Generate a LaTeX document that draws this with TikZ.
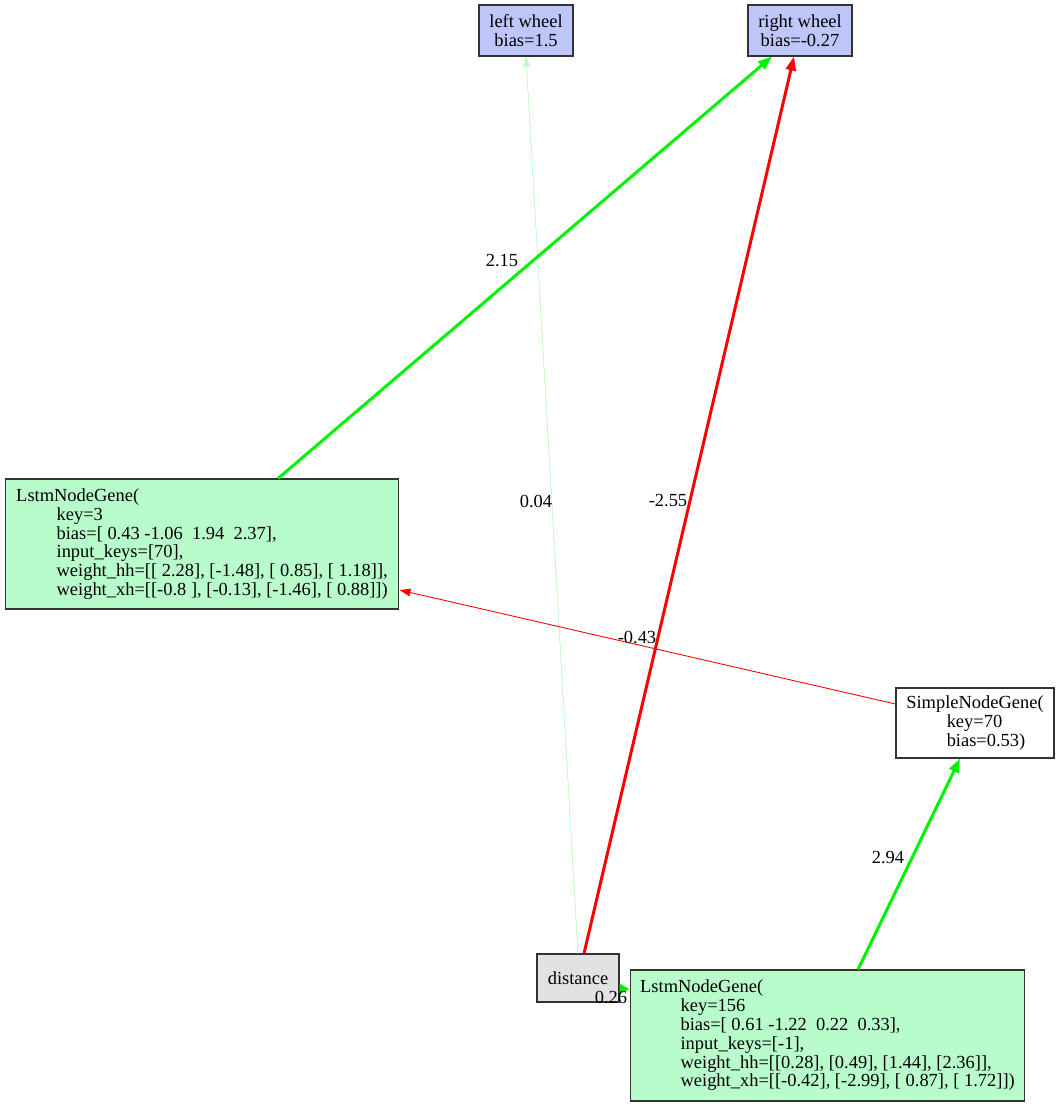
\documentclass[tikz,border=0pt]{standalone}
\usepackage{fontspec}
\setmainfont{Liberation Serif}
\usepackage{tikz}
\usetikzlibrary{arrows.meta,calc}

\definecolor{wheelblue}{RGB}{190,198,250}
\definecolor{genegreen}{RGB}{185,252,204}
\definecolor{inputgray}{RGB}{226,226,226}
\definecolor{wgreen}{RGB}{0,242,0}
\definecolor{wred}{RGB}{255,0,0}

\newcommand{\tabin}{\hspace*{23pt}}

\tikzset{
	genebox/.style={draw=black!80, line width=0.6pt, inner sep=0pt, align=left,
		font=\fontsize{10.5}{10.7}\selectfont},
	wheelbox/.style={genebox, align=center, fill=wheelblue},
	lstmbox/.style={genebox, fill=genegreen},
	wlabel/.style={inner sep=0pt, font=\fontsize{10.5}{10.7}\selectfont},
	bigpos/.style={draw=wgreen, line width=1.7pt, -{Triangle[length=0.28cm, width=0.2cm]}},
	bigneg/.style={draw=wred, line width=1.7pt, -{Triangle[length=0.28cm, width=0.2cm]}},
	smallneg/.style={draw=wred, line width=0.5pt, -{Triangle[length=0.22cm, width=0.15cm]}},
	faintpos/.style={draw=wgreen!25, line width=0.3pt, -{Triangle[length=0.2cm, width=0.14cm]}, fill=wgreen}
}

\begin{document}
\begin{tikzpicture}[x=0.02cm, y=-0.02cm]
	\useasboundingbox (0, 0) rectangle (1060, 1107);
	% Nodes:
	\node[wheelbox, minimum width=1.88cm, minimum height=1.02cm] (lw) at (526, 30.5) {left wheel\\bias=1.5};
	\node[wheelbox, minimum width=2.08cm, minimum height=1.02cm] (rw) at (800, 30.5) {right wheel\\bias=-0.27};
	\node[lstmbox, minimum width=7.88cm, minimum height=2.6cm] (l3) at (202, 544) {LstmNodeGene(\\
		\tabin key=3\\
		\tabin bias=[ 0.43 -1.06~~1.94~~2.37],\\
		\tabin input\_keys=[70],\\
		\tabin weight\_hh=[[ 2.28], [-1.48], [ 0.85], [ 1.18]],\\
		\tabin weight\_xh=[[-0.8 ], [-0.13], [-1.46], [ 0.88]])};
	\node[genebox, fill=white, minimum width=3.16cm, minimum height=1.4cm] (sg) at (975, 723) {SimpleNodeGene(\\
		\tabin key=70\\
		\tabin bias=0.53)};
	\node[genebox, align=center, fill=inputgray, minimum width=1.64cm, minimum height=0.96cm] (dist) at (578, 978) {distance};
	\node[lstmbox, minimum width=7.9cm, minimum height=2.62cm] (l156) at (827.5, 1035.5) {LstmNodeGene(\\
		\tabin key=156\\
		\tabin bias=[ 0.61 -1.22~~0.22~~0.33],\\
		\tabin input\_keys=[-1],\\
		\tabin weight\_hh=[[0.28], [0.49], [1.44], [2.36]],\\
		\tabin weight\_xh=[[-0.42], [-2.99], [ 0.87], [ 1.72]])};
	% Connections:
	\draw[faintpos] (dist.north) -- (lw.south);
	\draw[bigneg] ($(dist.north)+(6, 0)$) -- ($(rw.south)+(-6, 0)$);
	\draw[bigpos] ($(l3.north)+(76, 0)$) -- ($(rw.south)+(-28, 0)$);
	\draw[smallneg] ($(sg.west)+(0, -19)$) -- ($(l3.east)+(0, 46)$);
	\draw[bigpos] ($(l156.north)+(30.5, 0)$) -- ($(sg.south)+(-15, 0)$);
	\draw[draw=wgreen, line width=1.7pt, -{Triangle[length=0.2cm, width=0.2cm]}] ($(dist.east)+(0, 11)$) -- ($(l156.west)+(0, -46.5)$);
	% Weights:
	\node[wlabel] (w1) at (502, 261) {2.15};
	\node[wlabel] (w2) at (536, 501) {0.04};
	\node[wlabel] (w3) at (668, 501) {-2.55};
	\node[wlabel] (w4) at (637, 637) {-0.43};
	\node[wlabel] (w5) at (888, 858) {2.94};
	\node[wlabel] (w6) at (611, 997) {0.26};
\end{tikzpicture}
\end{document}
